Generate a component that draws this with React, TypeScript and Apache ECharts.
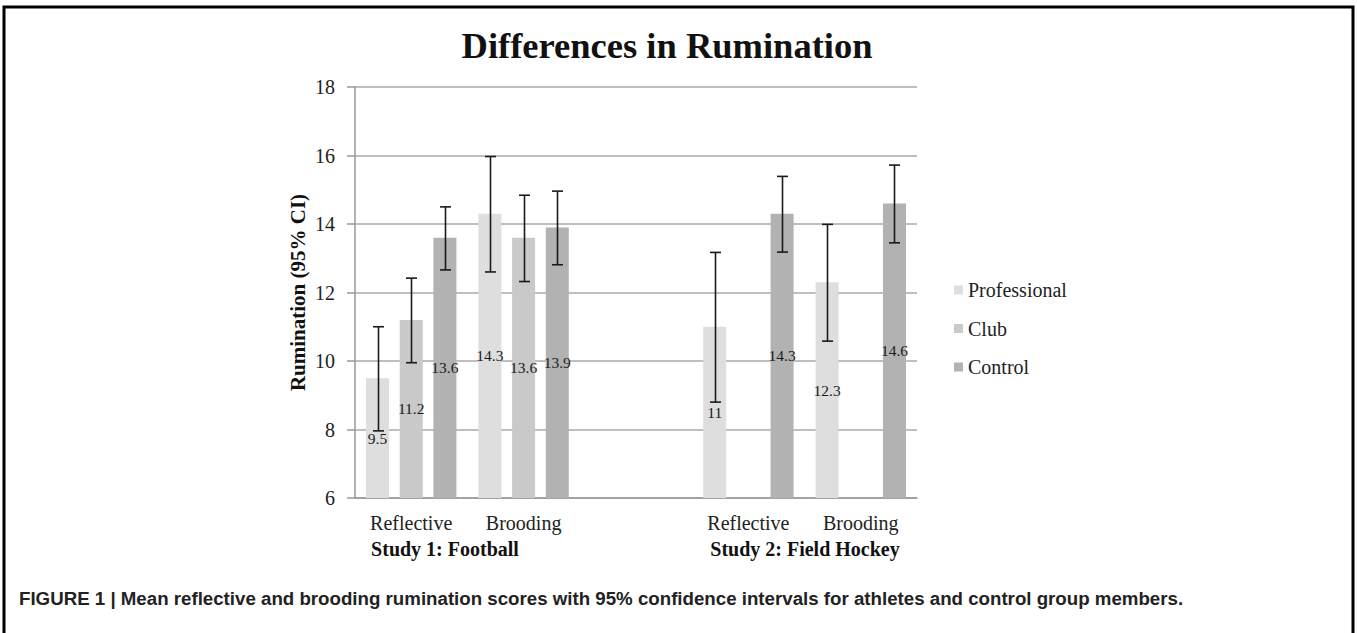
import React, { useEffect, useRef } from "react";
import * as echarts from "echarts";

const categories = ["Reflective", "Brooding", "", "Reflective", "Brooding"];
const seriesNames = ["Professional", "Club", "Control"];
const professional = [9.5, 14.3, null, 11, 12.3];
const club = [11.2, 13.6, null, null, null];
const control = [13.6, 13.9, null, 14.3, 14.6];
const professionalLow = [7.96, 12.6, null, 8.8, 10.58];
const professionalHigh = [11.0, 15.97, null, 13.17, 13.99];
const clubLow = [9.95, 12.32, null, null, null];
const clubHigh = [12.42, 14.84, null, null, null];
const controlLow = [12.66, 12.81, null, 13.18, 13.45];
const controlHigh = [14.5, 14.96, null, 15.39, 15.72];
const yTicks = { min: 6, max: 18, interval: 2 };
const studyLabels = ["Study 1: Football", "Study 2: Field Hockey"];
const titleText = "Differences in Rumination";
const yName = "Rumination (95% CI)";
const caption =
  "FIGURE 1 | Mean reflective and brooding rumination scores with 95% confidence intervals for athletes and control group members.";

const colors = ["#dedede", "#c9c9c9", "#b2b2b2"];
const SERIF = "'Liberation Serif', 'Times New Roman', serif";
const BAR_W = 23;
const BAR_GAP = 0.465;

export default function App() {
  const ref = useRef<HTMLDivElement>(null);
  useEffect(() => {
    if (!ref.current) return;
    const chart = echarts.init(ref.current, undefined, { renderer: "svg" });
    const values = [professional, club, control];
    const lows = [professionalLow, clubLow, controlLow];
    const highs = [professionalHigh, clubHigh, controlHigh];

    const barSeries = values.map((vals, i) => ({
      name: seriesNames[i],
      type: "bar",
      barWidth: BAR_W,
      barGap: BAR_GAP * 100 + "%",
      data: vals.map((v) => (v == null ? "-" : v)),
      itemStyle: { color: colors[i] },
      label: {
        show: true,
        position: "inside",
        fontFamily: SERIF,
        fontSize: 15.5,
        color: "#1a1a1a",
      },
      z: 2,
    }));

    const errSeries = lows.map((lo, i) => ({
      name: seriesNames[i] + " CI",
      type: "custom",
      z: 5,
      data: lo
        .map((l, k) => (l == null ? null : [k, l, highs[i][k]]))
        .filter((d) => d != null),
      encode: { x: 0, y: [1, 2] },
      renderItem: (params: any, api: any) => {
        const cat = api.value(0);
        const pLow = api.coord([cat, api.value(1)]);
        const pHigh = api.coord([cat, api.value(2)]);
        const off = (i - 1) * BAR_W * (1 + BAR_GAP);
        const x = Math.round(pLow[0] + off) + 0.5;
        const cap = 5.5;
        const style = { stroke: "#1a1a1a", lineWidth: 1.6 };
        return {
          type: "group",
          children: [
            { type: "line", shape: { x1: x, y1: pLow[1], x2: x, y2: pHigh[1] }, style },
            { type: "line", shape: { x1: x - cap, y1: pLow[1], x2: x + cap, y2: pLow[1] }, style },
            { type: "line", shape: { x1: x - cap, y1: pHigh[1], x2: x + cap, y2: pHigh[1] }, style },
          ],
        };
      },
    }));

    chart.setOption({
      animation: false,
      backgroundColor: "#fff",
      title: {
        text: titleText,
        left: 662,
        top: 22,
        textAlign: "center",
        textStyle: { fontFamily: SERIF, fontWeight: "bold", fontSize: 36.5, color: "#111" },
      },
      legend: {
        orient: "vertical",
        left: 949,
        top: 275,
        itemWidth: 9,
        itemHeight: 9,
        itemGap: 18.5,
        icon: "rect",
        data: seriesNames,
        textStyle: { fontFamily: SERIF, fontSize: 20, color: "#222" },
      },
      grid: { left: 355, top: 87, width: 562, height: 411 },
      xAxis: {
        type: "category",
        data: categories,
        axisLine: { lineStyle: { color: "#999", width: 1.5 } },
        axisTick: { show: false },
        axisLabel: { fontFamily: SERIF, fontSize: 20, color: "#222", margin: 15, interval: 0 },
      },
      yAxis: {
        type: "value",
        min: yTicks.min,
        max: yTicks.max,
        interval: yTicks.interval,
        name: yName,
        nameLocation: "middle",
        nameGap: 47,
        nameTextStyle: { fontFamily: SERIF, fontWeight: "bold", fontSize: 21, color: "#111" },
        axisLine: { show: true, lineStyle: { color: "#999", width: 1.5 } },
        axisTick: { show: true, length: 8, lineStyle: { color: "#999", width: 1.5 } },
        axisLabel: { fontFamily: SERIF, fontSize: 20, color: "#222", margin: 20 },
        splitLine: { lineStyle: { color: "#aaa", width: 1.5 } },
      },
      series: [...barSeries, ...errSeries],
      graphic: [
        {
          type: "rect",
          shape: { x: 4, y: 7, width: 1349, height: 700 },
          style: { fill: "none", stroke: "#000", lineWidth: 3 },
          silent: true,
        },
        {
          type: "text",
          x: 445,
          y: 549,
          style: {
            text: studyLabels[0],
            fontFamily: SERIF,
            fontWeight: "bold",
            fontSize: 20,
            fill: "#111",
            textAlign: "center",
            textVerticalAlign: "middle",
          },
        },
        {
          type: "text",
          x: 805,
          y: 549,
          style: {
            text: studyLabels[1],
            fontFamily: SERIF,
            fontWeight: "bold",
            fontSize: 20,
            fill: "#111",
            textAlign: "center",
            textVerticalAlign: "middle",
          },
        },
        {
          type: "text",
          x: 19,
          y: 598,
          style: {
            text: caption,
            fontFamily: "'Liberation Sans', Arial, sans-serif",
            fontWeight: "bold",
            fontSize: 18.7,
            fill: "#222",
            textAlign: "left",
            textVerticalAlign: "middle",
          },
        },
      ],
    });
    return () => chart.dispose();
  }, []);
  return (
    <div
      ref={ref}
      style={{ position: "absolute", left: 0, top: 0, width: 1357, height: 633, background: "#fff" }}
    />
  );
}
